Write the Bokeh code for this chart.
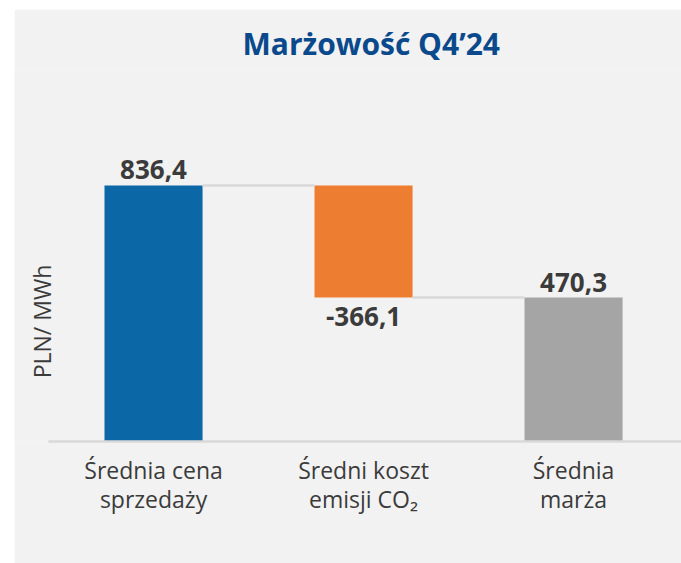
from bokeh.plotting import figure
from bokeh.models import Range1d, FixedTicker, ColumnDataSource, Spacer, Label
from bokeh.layouts import row, column
from bokeh.core.properties import value
from bokeh.embed import file_html
from bokeh.resources import INLINE

# ---- data ----
categories = ["Średnia cena\nsprzedaży", "Średni koszt\nemisji CO₂", "Średnia\nmarża"]
values = [836.4, -366.1, 470.3]
kinds = ["total", "delta", "total"]
colors = ["#0B67A6", "#ED7D31", "#A5A5A5"]
title_text = "Marżowość Q4’24"
y_label = "PLN/ MWh"

# waterfall geometry from values
bottoms, tops, levels = [], [], []
running = 0.0
for v, k in zip(values, kinds):
    if k == "total":
        bottoms.append(0.0)
        tops.append(v)
        running = v
    else:
        lo, hi = sorted([running, running + v])
        bottoms.append(lo)
        tops.append(hi)
        running = running + v
    levels.append(running)

xs = list(range(len(values)))
bar_w = 0.467
labels = [f"{v:.1f}".replace(".", ",") for v in values]

BG = "#F2F2F2"
TXT = "#3B3B3B"
FONT = "Open Sans"

p = figure(width=667, height=554, output_backend="svg", toolbar_location=None,
           x_range=Range1d(-0.662, 2.514), y_range=Range1d(0, 1212),
           y_axis_location=None,
           min_border_left=0, min_border_right=0, min_border_top=61, min_border_bottom=122,
           background_fill_color=BG, border_fill_color=BG, outline_line_color=None)
p.xgrid.visible = False
p.ygrid.visible = False

p.title.text = title_text
p.title.text_font = FONT
p.title.text_font_size = "30px"
p.title.text_font_style = "bold"
p.title.text_color = "#0A4A8C"
p.title.align = "left"
p.title.offset = 228
p.title.standoff = 13

src = ColumnDataSource(dict(x=xs, bottom=bottoms, top=tops, color=colors))
p.vbar(x="x", bottom="bottom", top="top", width=bar_w, fill_color="color",
       line_color=None, source=src)

# connectors between consecutive bars at the running level
cx0 = [i + bar_w / 2 for i in xs[:-1]]
cx1 = [i + 1 - bar_w / 2 for i in xs[:-1]]
cy = levels[:-1]
p.segment(x0=cx0, y0=cy, x1=cx1, y1=cy, line_color="#D9D9D9", line_width=2.5)

# data labels
above_x, above_y, above_t = [], [], []
below_x, below_y, below_t = [], [], []
for i, (v, t) in enumerate(zip(values, labels)):
    if v >= 0:
        above_x.append(i); above_y.append(tops[i]); above_t.append(t)
    else:
        below_x.append(i); below_y.append(bottoms[i]); below_t.append(t)
p.text(x=above_x, y=above_y, text=above_t, text_align="center", text_baseline="bottom",
       y_offset=-6, text_font=value(FONT), text_font_style="bold",
       text_font_size="26px", text_color=TXT)
p.text(x=below_x, y=below_y, text=below_t, text_align="center", text_baseline="top",
       y_offset=9, text_font=value(FONT), text_font_style="bold",
       text_font_size="26px", text_color=TXT)

# x axis (line starts at the left edge of the first category slot)
xa = p.xaxis[0]
xa.bounds = (-0.5, 2.514)
xa.ticker = FixedTicker(ticks=xs)
xa.major_label_overrides = {i: c for i, c in zip(xs, categories)}
xa.major_tick_line_color = None
xa.major_tick_out = 0
xa.major_tick_in = 0
xa.minor_tick_line_color = None
xa.axis_line_color = "#D9D9D9"
xa.axis_line_width = 2.5
xa.major_label_text_font = FONT
xa.major_label_text_font_size = "23px"
xa.major_label_text_line_height = 0.93
xa.major_label_text_color = TXT
xa.major_label_standoff = 12

# y-axis title, centred on the lower part of the plot like the original
p.add_layout(Label(x=27, y=392, x_units="screen", y_units="data", angle=90, angle_units="deg",
                   text=y_label, text_font=FONT, text_font_size="23px", text_color=TXT,
                   text_align="center", text_baseline="middle"))

layout = row(Spacer(width=14), column(Spacer(height=9), p))
open("out.html", "w").write(file_html(layout, INLINE))
